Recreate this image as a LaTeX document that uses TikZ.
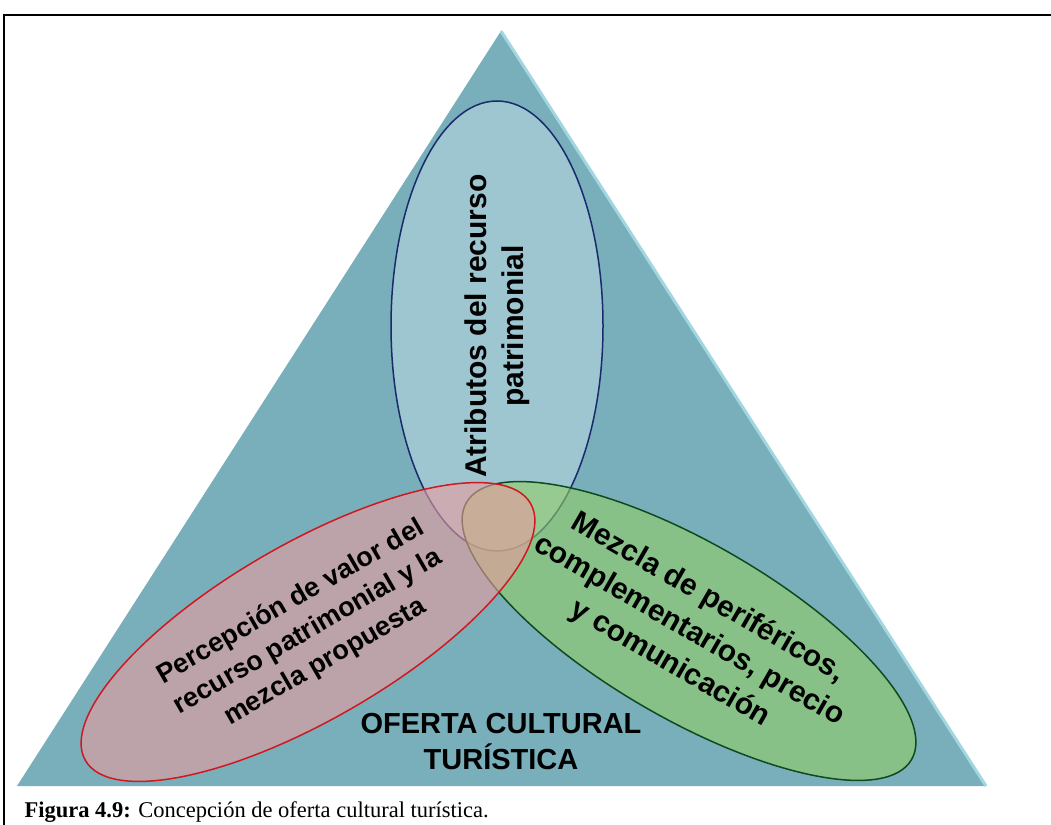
\documentclass[tikz,border=0pt]{standalone}
\usepackage{fontspec}
\setmainfont{Liberation Serif}
\newfontfamily\arialfont{Liberation Sans}
\usetikzlibrary{shapes.geometric}

\definecolor{trifill}{HTML}{79AEBB}
\definecolor{triedge}{HTML}{A2D7E1}
\definecolor{atrfill}{RGB}{193,222,229}
\definecolor{atrline}{HTML}{1A2A6C}
\definecolor{perfill}{RGB}{234,156,159}
\definecolor{perline}{HTML}{D01820}
\definecolor{mezfill}{RGB}{146,206,102}
\definecolor{mezline}{HTML}{0E4A1E}

\begin{document}
\begin{tikzpicture}[x=1pt, y=-1pt,
    bubble/.style={ellipse, draw, line width=1.5pt, inner sep=0pt, align=center,
      text=black, text opacity=1},
    bubbletext/.style={font=\arialfont\bfseries\fontsize{#1}{1.25*#1}\selectfont}
  ]
    \useasboundingbox (0, 0) rectangle (1051, 824);

    % Frame
    \draw[line width=2pt] (4, 830) -- (4, 15) -- (1060, 15);

    % Triangle
    \coordinate (apex) at (501, 31);
    \coordinate (bl) at (17, 786);
    \coordinate (br) at (986, 786);
    \fill[trifill] (apex) -- (bl) -- (br) -- cycle;
    \draw[triedge, line width=3pt] (apex) -- (br);

    % Ellipses
    \node[bubble, draw=atrline, fill=atrfill, fill opacity=0.5,
      minimum width=450pt, minimum height=212pt, rotate=90,
      font=\arialfont\bfseries\fontsize{30}{37}\selectfont]
      (atributos) at (497, 326) {Atributos del recurso\\patrimonial};
    \node[bubble, draw=mezline, fill=mezfill, fill opacity=0.6,
      minimum width=514pt, minimum height=176pt, rotate=-30,
      font=\arialfont\bfseries\fontsize{29.8}{38}\selectfont]
      (mezcla) at (689, 631) {Mezcla de periféricos,\\complementarios, precio\\y comunicación};
    \node[bubble, draw=perline, fill=perfill, fill opacity=0.6,
      minimum width=514pt, minimum height=176pt, rotate=30,
      font=\arialfont\bfseries\fontsize{27}{34.5}\selectfont]
      (percepcion) at (308, 632) {Percepción de valor del\\recurso patrimonial y la\\mezcla propuesta};

    % Labels
    \node[align=center, font=\arialfont\bfseries\fontsize{29}{36}\selectfont]
      (oferta) at (501, 742) {OFERTA CULTURAL\\TURÍSTICA};
    \node[anchor=base west, font=\fontsize{22.5}{27}\selectfont]
      (caption) at (21, 817) {\textbf{Figura 4.9:} Concepción de oferta cultural turística.};
  \end{tikzpicture}
\end{document}
